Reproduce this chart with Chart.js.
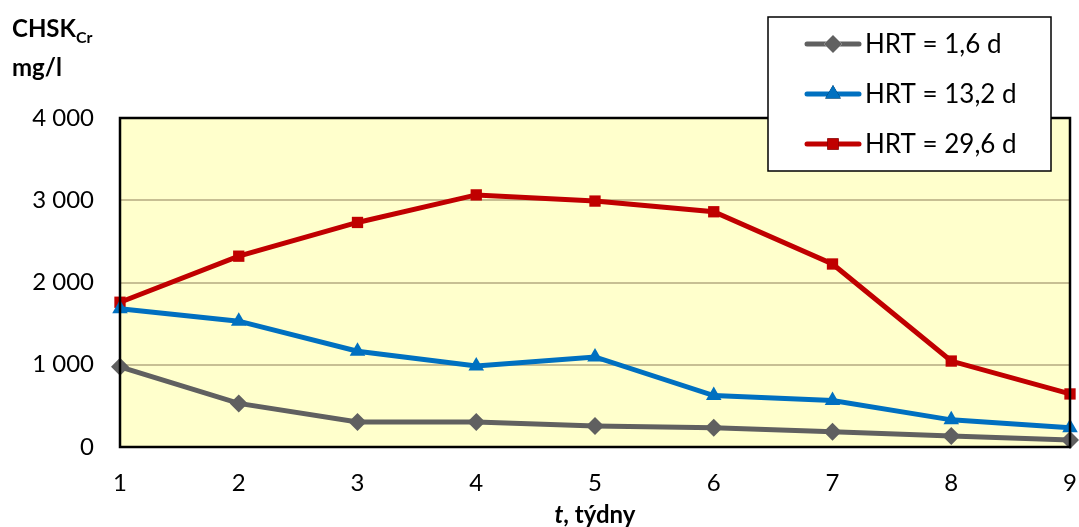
<!DOCTYPE html>
<html>
<head>
<meta charset="utf-8">
<script src="https://cdn.jsdelivr.net/npm/chart.js@4"></script>
<style>
  html, body { margin: 0; padding: 0; background: #fff; }
  #wrap { width: 1079px; height: 527px; }
</style>
</head>
<body>
<div id="wrap"><canvas id="chart" width="1079" height="527"></canvas></div>
<script>
// weeks on x axis
const weeks = [1, 2, 3, 4, 5, 6, 7, 8, 9];
const seriesNames = ['HRT = 1,6 d', 'HRT = 13,2 d', 'HRT = 29,6 d'];
// CHSK_Cr, mg/l
const hrt16 = [975, 530, 305, 305, 255, 235, 185, 135, 85];
const hrt132 = [1680, 1530, 1165, 985, 1095, 625, 565, 330, 235];
const hrt296 = [1760, 2320, 2730, 3065, 2990, 2860, 2225, 1045, 645];
const yTicks = [0, 1000, 2000, 3000, 4000];

const FONT = 'Lato, "Open Sans", sans-serif';
const colors = ['#606060', '#0070c0', '#c00000'];
const shapes = ['rectRot', 'triangle', 'rect'];

function fmt(v) {
  return String(v).replace(/\B(?=(\d{3})+(?!\d))/g, ' ');
}

function makeSet(i, values) {
  return {
    label: seriesNames[i],
    data: weeks.map((w, j) => ({ x: w, y: values[j] })),
    borderColor: colors[i],
    backgroundColor: colors[i],
    borderWidth: 5,
    pointStyle: shapes[i],
    pointRadius: i === 2 ? 8 : 9,
    pointBorderWidth: 0,
    tension: 0,
    clip: false
  };
}

// yellow plot background + black frame
const plotArea = {
  id: 'plotArea',
  beforeDraw(chart) {
    const a = chart.chartArea, ctx = chart.ctx;
    ctx.save();
    ctx.fillStyle = '#ffffcc';
    ctx.fillRect(a.left, a.top, a.right - a.left, a.bottom - a.top);
    ctx.restore();
  },
  afterDatasetsDraw(chart) {
    const a = chart.chartArea, ctx = chart.ctx;
    ctx.save();
    ctx.strokeStyle = '#000';
    ctx.lineWidth = 2.5;
    ctx.strokeRect(a.left, a.top, a.right - a.left, a.bottom - a.top);
    ctx.restore();
  }
};

// axis titles and boxed legend
const labels = {
  id: 'labels',
  afterDraw(chart) {
    const ctx = chart.ctx;
    ctx.save();
    ctx.fillStyle = '#000';
    ctx.textBaseline = 'alphabetic';
    ctx.textAlign = 'left';
    ctx.font = 'bold 24px ' + FONT;
    ctx.fillText('CHSK', 12, 37);
    const w = ctx.measureText('CHSK').width;
    ctx.font = 'bold 16px ' + FONT;
    ctx.fillText('Cr', 12 + w, 43);
    ctx.font = 'bold 24px ' + FONT;
    ctx.fillText('mg/l', 12, 76);

    // x title: italic t
    ctx.font = 'italic bold 24px ' + FONT;
    const tw = ctx.measureText('t').width;
    ctx.font = 'bold 24px ' + FONT;
    const rest = ', týdny';
    const rw = ctx.measureText(rest).width;
    const x0 = (chart.chartArea.left + chart.chartArea.right) / 2 - (tw + rw) / 2;
    ctx.font = 'italic bold 24px ' + FONT;
    ctx.fillText('t', x0, 523);
    ctx.font = 'bold 24px ' + FONT;
    ctx.fillText(rest, x0 + tw, 523);

    // legend box
    const bx = 768, by = 17, bw = 283, bh = 154;
    ctx.fillStyle = '#fff';
    ctx.fillRect(bx, by, bw, bh);
    ctx.strokeStyle = '#000';
    ctx.lineWidth = 1.5;
    ctx.strokeRect(bx, by, bw, bh);
    chart.data.datasets.forEach((ds, i) => {
      const y = 44 + i * 50;
      ctx.strokeStyle = ds.borderColor;
      ctx.lineWidth = 5;
      ctx.lineCap = 'round';
      ctx.beginPath();
      ctx.moveTo(807, y);
      ctx.lineTo(859, y);
      ctx.stroke();
      Chart.helpers.drawPoint(ctx, {
        pointStyle: ds.pointStyle, radius: ds.pointRadius, rotation: 0,
        borderWidth: 0
      }, 833, y);
      ctx.fillStyle = ds.backgroundColor;
      ctx.fill();
      ctx.fillStyle = '#000';
      ctx.font = '26px ' + FONT;
      ctx.textBaseline = 'middle';
      ctx.fillText(ds.label, 865, y + 1);
    });
    ctx.restore();
  }
};

new Chart(document.getElementById('chart'), {
  type: 'line',
  data: {
    datasets: [makeSet(0, hrt16), makeSet(1, hrt132), makeSet(2, hrt296)]
  },
  options: {
    responsive: false,
    animation: false,
    layout: { padding: { left: 0, right: 9, top: 118, bottom: 0 } },
    plugins: { legend: { display: false }, tooltip: { enabled: false } },
    scales: {
      x: {
        type: 'linear',
        min: weeks[0],
        max: weeks[weeks.length - 1],
        afterBuildTicks(scale) { scale.ticks = weeks.map(v => ({ value: v })); },
        afterFit(scale) {
          scale.height = 80;
          scale.paddingLeft = 0;
          scale.paddingRight = 0;
        },
        grid: { display: false },
        border: { display: false },
        ticks: {
          color: '#000',
          font: { family: FONT, size: 24 },
          padding: 14,
          maxRotation: 0,
          callback: v => String(v)
        }
      },
      y: {
        min: yTicks[0],
        max: yTicks[yTicks.length - 1],
        afterBuildTicks(scale) { scale.ticks = yTicks.map(v => ({ value: v })); },
        afterFit(scale) { scale.width = 120; },
        grid: { color: '#c7bf93', lineWidth: 2, drawTicks: false },
        border: { display: false },
        ticks: {
          color: '#000',
          font: { family: FONT, size: 24 },
          padding: 26,
          callback: v => fmt(v)
        }
      }
    }
  },
  plugins: [plotArea, labels]
});
</script>
</body>
</html>
